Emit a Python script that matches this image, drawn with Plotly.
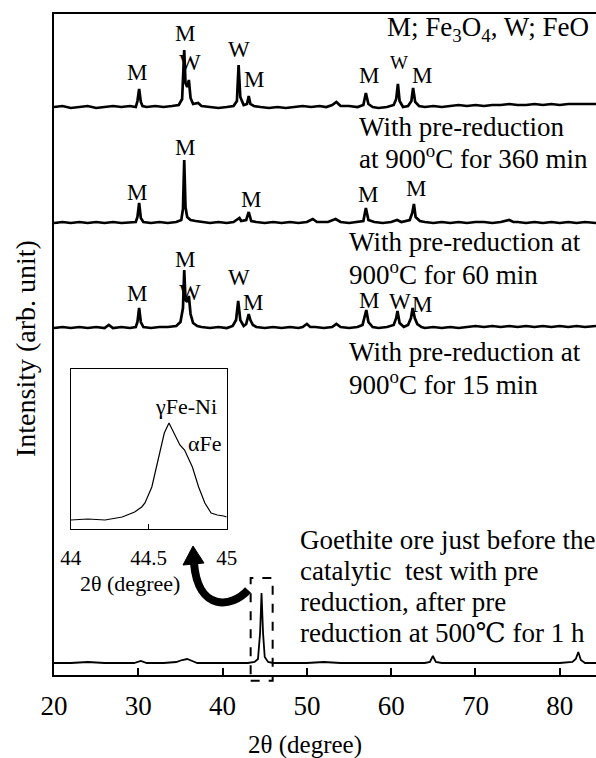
import plotly.graph_objects as go

# ---------------- data ----------------
# intensities are relative heights above each pattern's own baseline (arb. unit)
x_360 = [20.0, 21.0, 22.0, 23.0, 24.0, 25.0, 26.0, 27.0, 28.0, 29.0, 29.7, 29.9, 30.1, 30.3, 30.5,
         31.0, 32.0, 33.0, 34.0, 34.8, 35.2, 35.45, 35.6, 35.8, 36.0, 36.2, 36.5, 37.1, 37.5,
         38.5, 39.5, 40.5, 41.3, 41.7, 41.9, 42.1, 42.5, 42.9, 43.1, 43.3, 43.7, 44.5, 45.5,
         46.5, 47.5, 48.5, 49.5, 50.5, 51.5, 52.3, 53.0, 53.5, 54.0, 55.0, 56.0, 56.7, 57.0,
         57.3, 57.8, 58.5, 59.5, 60.3, 60.6, 60.8, 61.0, 61.4, 62.0, 62.4, 62.6, 62.85, 63.3,
         64.0, 65.0, 66.0, 67.0, 68.0, 69.0, 70.0, 71.0, 72.0, 73.0, 74.0, 75.0, 76.0, 77.0,
         78.0, 79.0, 80.0, 81.0, 82.0, 83.0, 84.3]
i_360 = [0, 1, -1, 0, 1, -1, 0, 1, 0, 1, 0, 6, 18, 5, 1,
         0, 1, 0, 1, 2, 8, 57, 24, 20, 27, 9, 3, 4, 1,
         0, -1, 0, 1, 6, 42, 10, 2, 3, 11, 3, 1, 0, -1,
         0, -1, 0, 1, 0, 1, 0, 2, 5, 1, 1, 0, 2, 14,
         3, 0, -1, 0, 2, 8, 23, 6, 0, 1, 6, 19, 5, 1,
         0, 1, 0, 1, 2, 1, 2, 1, 2, 2, 3, 2, 2, 3,
         2, 3, 2, 3, 3, 3, 3]

x_60 = [20, 21, 22, 23, 24, 25, 26, 27, 28, 29, 29.7, 29.9, 30.1, 30.3, 30.6, 31.5, 32.5, 33.5,
        34.5, 35.1, 35.3, 35.45, 35.6, 35.8, 36.2, 36.8, 37.5, 38.5, 39.5, 40.5, 41.3, 41.8,
        42.0, 42.2, 42.8, 43.1, 43.4, 44.0, 45, 46, 47, 48, 49, 50, 50.7, 51.2, 52.5, 53.4,
        54, 55, 56, 56.7, 57.0, 57.3, 58, 59, 60, 60.7, 61.2, 62.2, 62.5, 62.7, 62.9, 63.4,
        64, 65, 66, 67, 68, 69, 70, 71, 72, 73, 74, 74.5, 75, 76, 77, 78, 79, 80, 81, 82,
        83, 84.3]
i_60 = [0, 1, 0, 1, 0, 1, 0, 1, 0, 1, 1, 6, 20, 5, 1, 0, 1, 0,
        1, 3, 14, 63, 16, 6, 3, 2, 1, 0, 1, 0, 1, 4,
        5, 2, 3, 11, 2, 1, 0, 1, 0, 1, 0, 1, 4, 1, 1, 4,
        1, 0, 1, 2, 15, 3, 1, 0, 1, 3, 1, 3, 10, 19, 6, 2,
        1, 0, 1, 0, 1, 0, 1, 1, 0, 1, 3, 1, 1, 0, 1, 0, 1, 0, 1, 0,
        1, 0]

x_15 = [20, 21, 22, 23, 24, 25, 26, 26.5, 27, 28, 29, 29.7, 29.9, 30.1, 30.3, 30.6, 31.5, 32.5,
        33.5, 34.5, 35.0, 35.3, 35.45, 35.6, 35.8, 36.0, 36.2, 36.5, 37, 37.5, 38.5, 39.5,
        40.5, 41.2, 41.6, 41.85, 42.1, 42.5, 42.8, 43.1, 43.3, 43.6, 44, 45, 46, 47, 48, 49,
        49.5, 50.0, 50.4, 51, 52, 53, 53.5, 54, 55, 56, 56.6, 56.9, 57.05, 57.3, 57.8, 58.5,
        59.5, 60.3, 60.6, 60.75, 61.0, 61.5, 62.0, 62.35, 62.55, 62.8, 63.1, 63.6, 64, 65,
        66, 67, 68, 69, 70, 71, 72, 73, 74, 75, 76, 77, 78, 79, 80, 81, 82, 83, 84.3]
i_15 = [0, 1, 0, 1, 0, 1, 0, 3, 0, 1, 0, 1, 6, 20, 6, 1, 0, 1,
        1, 2, 6, 20, 58, 28, 26, 32, 14, 5, 2, 1, 0, 1,
        0, 2, 8, 27, 8, 2, 4, 14, 8, 3, 1, 0, 1, 0, 1, 0,
        1, 4, 1, 1, 0, 1, 4, 1, 0, 1, 3, 12, 18, 6, 1, 0,
        1, 3, 10, 17, 5, 1, 3, 10, 20, 10, 4, 1, 0, 1,
        0, 1, 0, 1, 2, 1, 2, 1, 2, 1, 2, 1, 2, 1, 2, 1, 2, 1, 2]

x_goe = [20, 22, 24, 26, 28, 29.5, 30.3, 31, 33, 34.5, 35.2, 35.8, 36.4, 37.0, 39, 41, 43.0,
         43.8, 44.2, 44.45, 44.62, 44.8, 45.0, 45.4, 46, 48, 50, 52, 54, 56, 58, 60, 62, 64,
         64.6, 64.95, 65.3, 66, 68, 70, 72, 74, 76, 78, 80, 81.5, 81.9, 82.2, 82.5, 83, 84.3]
i_goe = [0, 0, 1, 0, 0, 0, 2, 0, 0, 1, 3, 4, 2, 0, 0, 0, 0,
         1, 4, 30, 70, 30, 6, 1, 0, 0, 0, 1, 0, 0, 0, 0, 0, 0,
         1, 7, 1, 0, 0, 0, 0, 0, 0, 0, 0, 1, 4, 11, 3, 0, 0]

# inset: zoom of the 44-45 deg region of the bottom pattern
x_inset = [44.0, 44.11, 44.22, 44.33, 44.41, 44.455, 44.476, 44.52, 44.56, 44.60, 44.63,
           44.67, 44.70, 44.73, 44.78, 44.82, 44.86, 44.90, 44.94, 44.98, 45.0]
i_inset = [0, 1, 0, 3, 8, 13, 17, 33, 60, 87, 97, 85, 75, 70, 53, 33, 17, 7, 5, 4, 3]

x_ticks = [20, 30, 40, 50, 60, 70, 80]
x_tick_labels = ["20", "30", "40", "50", "60", "70", "80"]
inset_ticks = [44, 44.5, 45]
inset_tick_labels = ["44", "44.5", "45"]

# stacking offsets of the patterns (arb. unit)
off_goe, off_15, off_60, off_360 = 12, 347, 452, 568

# ---------------- figure ----------------
FONT = "Liberation Serif, Times New Roman, Tinos, DejaVu Serif, serif"
W_FIG, H_FIG = 596, 758
ML, MR, MT, MB = 54, 0, 14, 83
PW, PH = W_FIG - ML - MR, H_FIG - MT - MB
XR = [20, 84.3]
YR = [0, PH]


def pix(px, py):
    """position on the page (pixels) -> paper coordinates"""
    return (px - ML) / PW, (MT + PH - py) / PH


def dat(x, y):
    """main-axis data -> paper coordinates (for shapes that must not be clipped)"""
    return (x - XR[0]) / (XR[1] - XR[0]), (y - YR[0]) / (YR[1] - YR[0])


fig = go.Figure()
for xs, ys, off, lw in [(x_360, i_360, off_360, 2.7), (x_60, i_60, off_60, 2.7),
                        (x_15, i_15, off_15, 2.7), (x_goe, i_goe, off_goe, 1.8)]:
    fig.add_trace(go.Scatter(x=xs, y=[v + off for v in ys], mode="lines",
                             line=dict(color="black", width=lw), showlegend=False,
                             hoverinfo="skip"))

fig.add_trace(go.Scatter(x=x_inset, y=i_inset, mode="lines", xaxis="x2", yaxis="y2",
                         line=dict(color="black", width=1.2), showlegend=False,
                         hoverinfo="skip"))

ix0, iy0 = pix(70.7, 529)
ix1, iy1 = pix(226.7, 369)

fig.update_layout(
    width=W_FIG, height=H_FIG,
    margin=dict(l=ML, r=MR, t=MT, b=MB, autoexpand=False),
    paper_bgcolor="white", plot_bgcolor="white",
    font=dict(family=FONT, color="black", size=24),
    hovermode=False,
    xaxis=dict(range=XR, domain=[0, 1], showline=True, linewidth=2, linecolor="black",
               mirror=True, ticks="inside", ticklen=7, tickwidth=2, tickcolor="black",
               tickvals=x_ticks, ticktext=x_tick_labels, showgrid=False, zeroline=False,
               tickfont=dict(family=FONT, size=27), ticklabelstandoff=6),
    yaxis=dict(range=YR, domain=[0, 1], showline=True, linewidth=2, linecolor="black",
               showticklabels=False, ticks="inside", ticklen=4, tickwidth=2,
               tickcolor="black", tickvals=[off_15, off_60],
               showgrid=False, zeroline=False),
    xaxis2=dict(range=[44, 45], domain=[ix0, ix1], anchor="y2", showline=True, linewidth=1,
                linecolor="black", mirror=True, ticks="inside", ticklen=5, tickwidth=1,
                tickcolor="black", tickvals=inset_ticks, ticktext=inset_tick_labels,
                showgrid=False, zeroline=False, tickfont=dict(family=FONT, size=21),
                ticklabelstandoff=10),
    yaxis2=dict(range=[-9, 151], domain=[iy0, iy1], anchor="x2", showline=True, linewidth=1,
                linecolor="black", mirror=True, showticklabels=False, ticks="",
                showgrid=False, zeroline=False),
)

ann = []


def txt(x, y, s, size=24, xanchor="center", xref="x", yref="y", angle=0):
    ann.append(dict(x=x, y=y, xref=xref, yref=yref, text=s, showarrow=False,
                    xanchor=xanchor, yanchor="middle", textangle=angle,
                    font=dict(family=FONT, size=size, color="black")))


# peak letters
S = 23
for x, y, s, sz in [(29.9, 603, "M", S), (35.5, 642, "M", S), (36.1, 613, "W", S),
                    (41.9, 626, "W", S), (43.7, 596, "M", S), (57.4, 600, "M", S),
                    (60.9, 613, "W", 19), (63.7, 600, "M", S),
                    (29.9, 483, "M", S), (35.5, 528, "M", S), (43.4, 476, "M", S),
                    (57.2, 481, "M", S), (62.9, 487, "M", S),
                    (29.9, 382, "M", S), (35.5, 416, "M", S), (36.1, 383, "W", S),
                    (41.9, 398, "W", S), (43.6, 373, "M", S), (57.4, 375, "M", S),
                    (61.0, 374, "W", S), (63.6, 371, "M", S)]:
    txt(x, y, s, sz)

# descriptive labels
L1 = 27
txt(59.3, 646, "M; Fe<sub>3</sub>O<sub>4</sub>, W; FeO", L1, "left")
txt(56.0, 548, "With pre-reduction", L1, "left")
txt(56.0, 518, "at 900<sup>o</sup>C for 360 min", L1, "left")
txt(54.8, 433, "With pre-reduction at", L1, "left")
txt(54.8, 402, "900<sup>o</sup>C for 60 min", L1, "left")
txt(54.8, 323, "With pre-reduction at", L1, "left")
txt(54.8, 292, "900<sup>o</sup>C for 15 min", L1, "left")
txt(48.95, 135, "Goethite ore just before the", L1, "left")
txt(48.95, 104, "catalytic  test with pre", L1, "left")
txt(48.95, 73, "reduction, after pre", L1, "left")
txt(48.95, 42, "reduction at 500℃ for 1 h", L1, "left")

# inset labels
txt(44.74, 113, "γFe-Ni", 22, xref="x2", yref="y2")
txt(44.86, 76, "αFe", 22, xref="x2", yref="y2")
px_, py_ = pix(130, 583)
txt(px_, py_, "2θ (degree)", 22, xref="paper", yref="paper")

# axis titles
px_, py_ = pix(305, 745)
txt(px_, py_, "2θ (degree)", 25, xref="paper", yref="paper")
px_, py_ = pix(25, 349)
txt(px_, py_, "Intensity (arb. unit)", 28, xref="paper", yref="paper", angle=-90)

fig.update_layout(annotations=ann)

# dashed box round the main peak of the bottom pattern
bx0, by0 = dat(43.33, -5.7)
bx1, by1 = dat(45.94, 97)
shapes = [dict(type="rect", xref="paper", yref="paper", x0=bx0, y0=by0, x1=bx1, y1=by1,
               line=dict(color="black", width=2, dash="dash"), fillcolor="rgba(0,0,0,0)")]


# curved arrow from the box to the inset
def P(px, py):
    a, b = pix(px, py)
    return f"{a:.5f},{b:.5f}"


arc = f"M {P(248, 590)} C {P(232, 608)} {P(198, 612)} {P(194, 563)}"
shapes.append(dict(type="path", xref="paper", yref="paper", path=arc,
                   line=dict(color="black", width=8)))
head = f"M {P(193, 546)} L {P(183, 565)} L {P(204, 563)} Z"
shapes.append(dict(type="path", xref="paper", yref="paper", path=head,
                   line=dict(color="black", width=1), fillcolor="black"))
fig.update_layout(shapes=shapes)

# the page itself: no default body margin, so the figure fills the window exactly
fig.write_html("out.html",
               config={"displayModeBar": False, "staticPlot": True},
               post_script="document.body.style.margin='0px';"
                           "document.documentElement.style.overflow='hidden';")
